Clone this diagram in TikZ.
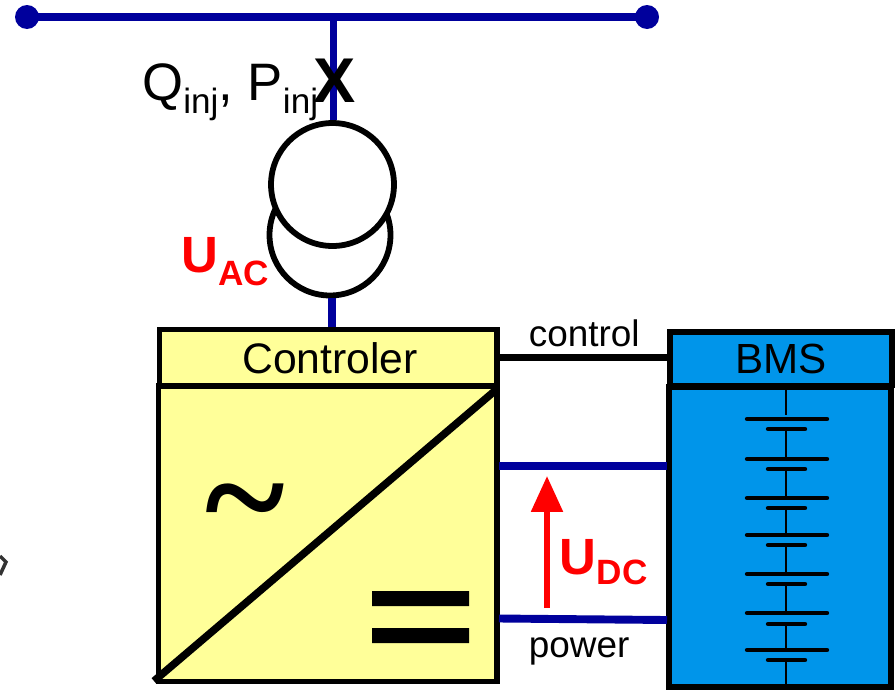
\documentclass[tikz,border=0pt]{standalone}
\usepackage{fontspec}
\setmainfont{Liberation Sans}
\newfontfamily\serifglyph{Liberation Serif}
\usetikzlibrary{arrows.meta}
\definecolor{busblue}{HTML}{00009C}
\definecolor{ctrlyellow}{HTML}{FFFF99}
\definecolor{bmsblue}{HTML}{0095EA}
\newcommand{\sublabel}[2][7.4pt]{\raisebox{-#1}{\fontsize{20}{20}\selectfont #2}}
\tikzset{
  wire/.style={draw=busblue,line width=4.5pt},
  ctrlbox/.style={draw=black,line width=3pt,fill=ctrlyellow,inner sep=0pt,outer sep=0pt},
  bmsbox/.style={draw=black,line width=3.4pt,fill=bmsblue,inner sep=0pt,outer sep=0pt},
  winding/.style={draw=black,line width=3.3pt,fill=white,circle,inner sep=0pt},
  plate/.style={line width=2.5pt,line cap=round},
  lbl/.style={inner sep=0pt,font=\fontsize{21}{21}\selectfont}
}
\begin{document}
\begin{tikzpicture}[x=0.02cm,y=-0.02cm]
\useasboundingbox (0,0) rectangle (895,690);
% smudge at the left edge
\draw[black!80,line width=2pt] (0,556) -- (6,562) -- (0,575);
% busbar
\coordinate (busL) at (27,17); \coordinate (busR) at (647,17); \coordinate (busT) at (333.5,17);
\fill[busblue] (busL) circle (12) (busR) circle (12);
\draw[wire] (busL) -- (busR);
% transformer
\node[winding,minimum size=2.42cm] (lower) at (330,235) {};
\node[winding,minimum size=2.46cm] (upper) at (332.5,184.5) {};
\draw[wire] (busT) -- (busT |- upper.north);
\node[inner sep=0pt,font=\bfseries\fontsize{36}{36}\selectfont] (brk) at (335,81) {X};
\node[anchor=base west,inner sep=0pt,font=\fontsize{30}{30}\selectfont] (inj) at (142,100) {Q\sublabel{inj}, P\sublabel{inj}};
\node[anchor=base west,inner sep=0pt,text=red,font=\bfseries\fontsize{29}{29}\selectfont] (uac) at (181,272) {U\sublabel{AC}};
% converter
\coordinate (acDrop) at (331.7,298);
\draw[wire] (acDrop) -- (acDrop |- 0,330);
\node[ctrlbox,minimum width=6.75cm,minimum height=1.13cm] (ctrl) at (328.25,357.75) {\hspace{2pt}\fontsize{24.3}{24.3}\selectfont Controler};
\node[ctrlbox,anchor=north west,minimum width=6.77cm,minimum height=5.91cm] (conv) at (158.5,386) {};
\coordinate (diagA) at (154,681); \coordinate (diagB) at (497,389);
\draw[line width=4.3pt] (diagA) -- (diagB);
\node[inner sep=0pt,font=\serifglyph\bfseries\fontsize{87}{87}\selectfont] (tilde) at (245,516) {\char`~};
\fill (372,591) rectangle (469,606) (372,628) rectangle (469,643);
% battery
\node[bmsbox,anchor=north west,minimum width=4.44cm,minimum height=6cm] (bat) at (669,387) {};
\node[bmsbox,minimum width=4.45cm,minimum height=1.07cm] (bms) at (780.75,358.75) {\fontsize{24}{24}\selectfont BMS};
\draw[line width=1.5pt] (786,387) -- (786,415);
\foreach \yl/\ys/\yn in {419/429/459,459/469/498,498/508/535,535/545/574,574/584/613,613/624/650,650/660/687}{
  \draw[line width=1.5pt] (786,\ys) -- (786,\yn);
  \draw[plate] (747,\yl) -- (827,\yl);
  \draw[plate] (768,\ys) -- (805,\ys);
}
% links
\draw[line width=3.8pt] (ctrl.east) -- (ctrl.east -| bms.west);
\coordinate (dcTop) at (499,466); \coordinate (dcBot) at (499,618.5); \coordinate (dcEnd) at (667,620);
\draw[wire] (dcTop) -- (dcTop -| dcEnd);
\draw[wire] (dcBot) -- (dcEnd);
\node[lbl,anchor=base west] (control) at (528.5,346) {control};
\node[lbl,anchor=base west] (power) at (528.5,657) {power};
\coordinate (arrS) at (547,608); \coordinate (arrE) at (547,476);
\draw[red,line width=3.4pt,-{Triangle[length=20.4pt,width=17.5pt]}] (arrS) -- (arrE);
\node[anchor=base west,inner sep=0pt,text=red,font=\bfseries\fontsize{29}{29}\selectfont] (udc) at (559.5,574) {U\sublabel[6.2pt]{DC}};
\end{tikzpicture}
\end{document}
